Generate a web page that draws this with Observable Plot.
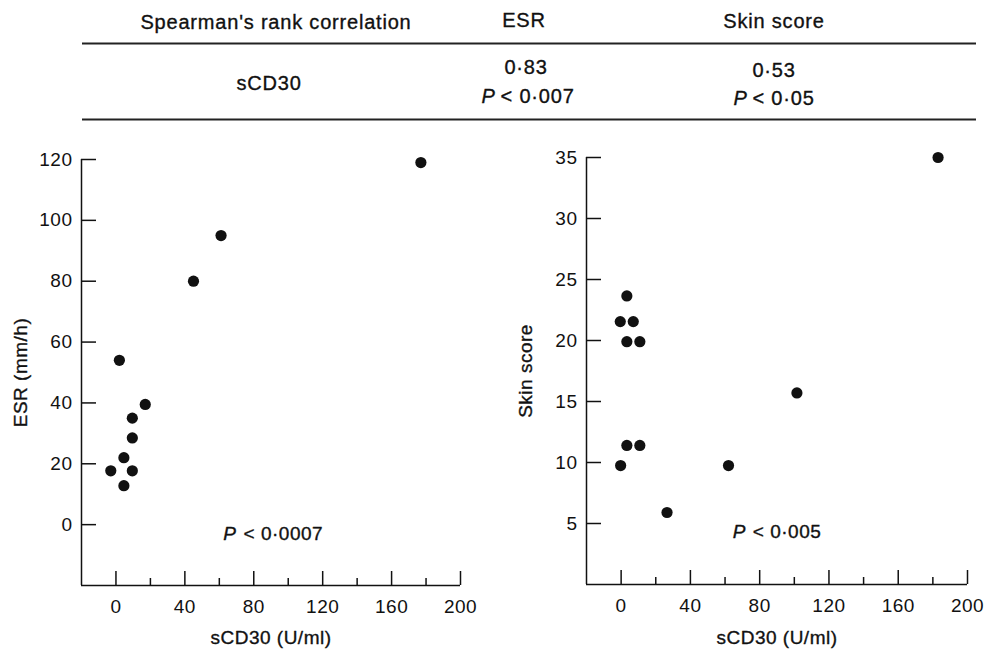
<!DOCTYPE html>
<html><head><meta charset="utf-8">
<script src="https://cdn.jsdelivr.net/npm/d3@7"></script>
<script src="https://cdn.jsdelivr.net/npm/@observablehq/plot@0.6"></script>
<style>
body{margin:0;background:#fff;}
#wrap{position:relative;width:987px;height:650px;font-family:"Liberation Sans",Arial,sans-serif;overflow:hidden;}
#wrap > *{position:absolute;}
</style></head><body><div id="wrap"></div>
<script>
// ---- data ----
const headerCols = ["Spearman's rank correlation", "ESR", "Skin score"];
const rowLabel = "sCD30";
const rhoValues = ["0·83", "0·53"];
const pValues = ["< 0·007", "< 0·05"];

const esrX = [177, 61, 45, 2, 17, 9.5, 9.5, 4.6, -3, 9.5, 4.6];
const esrY = [119, 95, 80, 54, 39.5, 35, 28.5, 22, 17.7, 17.7, 12.8];

const skinX = [183, 101.5, 62, 26.5, 3.3, -0.5, 7, 3.3, 10.8, 3.3, 10.8, -0.3];
const skinY = [35, 15.7, 9.75, 5.9, 23.65, 21.55, 21.55, 19.9, 19.9, 11.4, 11.4, 9.75];

const xMajorTicks = [0, 40, 80, 120, 160, 200];
const xMinorTicks = [20, 60, 100, 140, 180];
const esrTicks = [0, 20, 40, 60, 80, 100, 120];
const skinTicks = [5, 10, 15, 20, 25, 30, 35];

const xLabel = "sCD30 (U/ml)";
const esrLabel = "ESR (mm/h)";
const skinLabel = "Skin score";
const esrNote = [{x: 70, y: -5, text: "< 0·0007"}];
const skinNote = [{x: 72, y: 3.8, text: "< 0·005"}];

const wrap = document.getElementById("wrap");
const INK = "#111";
const FONT = "'Liberation Sans', Arial, sans-serif";

// ---- header table ----
const hdr = d3.create("svg").attr("width", 987).attr("height", 130)
  .style("left", "0px").style("top", "0px")
  .attr("font-family", FONT).attr("font-size", 20).attr("fill", INK)
  .attr("stroke", INK).attr("stroke-width", 0.35)
  .attr("letter-spacing", "0.8px").attr("text-anchor", "middle");
hdr.append("text").attr("x", 276).attr("y", 29).text(headerCols[0]);
hdr.append("text").attr("x", 524).attr("y", 27).text(headerCols[1]);
hdr.append("text").attr("x", 774).attr("y", 28).text(headerCols[2]);
hdr.append("line").attr("x1", 82).attr("x2", 976).attr("y1", 43.5).attr("y2", 43.5).attr("stroke", "#222").attr("stroke-width", 2);
hdr.append("text").attr("x", 269).attr("y", 90).text(rowLabel);
hdr.append("text").attr("x", 526).attr("y", 74).text(rhoValues[0]);
hdr.append("text").attr("x", 774).attr("y", 77).text(rhoValues[1]);
function pText(x, y, s) {
  const t = hdr.append("text").attr("x", x).attr("y", y);
  t.append("tspan").attr("font-style", "italic").text("P");
  t.append("tspan").attr("dx", 5).text(s);
}
pText(528, 103, pValues[0]);
pText(774, 105, pValues[1]);
hdr.append("line").attr("x1", 82).attr("x2", 976).attr("y1", 119.5).attr("y2", 119.5).attr("stroke", "#222").attr("stroke-width", 2);
wrap.appendChild(hdr.node());

// ---- panels ----
function panel({xs, ys, yDomain, yTicks, yLabel, note, width, marginLeft, marginTop, marginBottom, left, xTitleDy}) {
  const pts = xs.map((x, i) => ({x, y: ys[i]}));
  const marginRight = 20;
  const frameW = width - marginLeft - marginRight;
  const txt = {fill: INK, stroke: INK, strokeWidth: 0.35};
  const chart = Plot.plot({
    width, height: 520,
    marginLeft, marginRight, marginTop, marginBottom,
    x: {domain: [-20, 200], axis: null},
    y: {domain: yDomain, axis: null},
    style: {fontFamily: FONT, fontSize: "19px", color: INK, background: "transparent", overflow: "visible", letterSpacing: "0.5px"},
    marks: [
      Plot.ruleX([-20], {stroke: INK, strokeWidth: 1.5}),
      Plot.ruleY([yDomain[0]], {stroke: INK, strokeWidth: 1.5}),
      // inward y ticks (15px long)
      Plot.ruleY(yTicks, {y: d => d, stroke: INK, strokeWidth: 1.5, insetRight: frameW - 15}),
      Plot.axisY(yTicks, {tickSize: 0, tickPadding: 9, ...txt, label: null, fontSize: 19}),
      // upward x ticks
      Plot.axisX(xMajorTicks, {tickSize: 14, dy: -14, fill: "none", stroke: INK, strokeWidth: 1.5, label: null}),
      Plot.axisX(xMinorTicks, {tickSize: 7, dy: -7, fill: "none", stroke: INK, strokeWidth: 1.5, label: null}),
      Plot.axisX(xMajorTicks, {tickSize: 0, tickPadding: 14, ...txt, label: null, fontSize: 19}),
      // axis titles
      Plot.text([xLabel], {frameAnchor: "bottom", textAnchor: "middle", lineAnchor: "bottom", dy: xTitleDy, fontSize: 19, ...txt, ariaLabel: "xtitle"}),
      Plot.text([yLabel], {frameAnchor: "left", textAnchor: "middle", rotate: -90, lineAnchor: "middle", dx: -61, fontSize: 19, ...txt, ariaLabel: "ytitle"}),
      // dots
      Plot.dot(pts, {x: "x", y: "y", r: 5.6, fill: INK, stroke: "none"}),
      // annotation
      Plot.text(note, {x: "x", y: "y", text: () => "P", fontStyle: "italic", textAnchor: "end", lineAnchor: "bottom", fontSize: 19, ...txt}),
      Plot.text(note, {x: "x", y: "y", text: "text", textAnchor: "start", lineAnchor: "bottom", dx: 7, fontSize: 19, ...txt})
    ]
  });
  d3.select(chart).selectAll('g[aria-label="xtitle"] text, g[aria-label="ytitle"] text').style("letter-spacing", "1.3px");
  chart.style.position = "absolute";
  chart.style.left = left + "px";
  chart.style.top = "130px";
  wrap.appendChild(chart);
}

panel({xs: esrX, ys: esrY, yDomain: [-20, 120], yTicks: esrTicks, yLabel: esrLabel, note: esrNote,
  width: 480, marginLeft: 81, marginTop: 29, marginBottom: 65, left: 0, xTitleDy: 58});
panel({xs: skinX, ys: skinY, yDomain: [0, 35], yTicks: skinTicks, yLabel: skinLabel, note: skinNote,
  width: 497, marginLeft: 96, marginTop: 27, marginBottom: 66, left: 490, xTitleDy: 59});
</script></body></html>
